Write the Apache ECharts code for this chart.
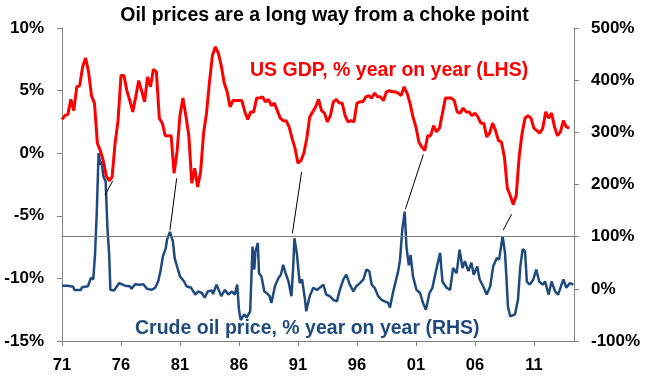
<!DOCTYPE html>
<html>
<head>
<meta charset="utf-8">
<script src="https://cdn.jsdelivr.net/npm/echarts@6/dist/echarts.min.js"></script>
<style>
html,body{margin:0;padding:0;background:#fff;}
#chart{width:649px;height:381px;}
</style>
</head>
<body>
<div id="chart"></div>
<script>
// ---- Data ----
const titleText = 'Oil prices are a long way from a choke point';
const gdpLabel = 'US GDP, % year on year (LHS)';
const oilLabel = 'Crude oil price, % year on year (RHS)';

// US GDP, % y/y, quarterly from 1971Q1
const gdpStartYear = 1971;
const gdpValues = [
  2.7, 3.0, 3.1, 4.3,   // 1971
  3.4, 5.3, 5.4, 6.9,   // 1972
  7.6, 6.5, 4.6, 4.0,   // 1973
  0.8, 0.2, -0.6, -1.8, // 1974
  -2.2, -1.9, 0.8, 2.6, // 1975
  6.2, 6.2, 5.0, 4.2,   // 1976
  3.3, 4.5, 5.8, 5.0,   // 1977
  4.1, 6.1, 5.3, 6.7,   // 1978
  6.5, 2.8, 2.4, 1.4,   // 1979
  1.4, 1.4, -1.6, 0.1,  // 1980
  3.0, 4.4, 3.0, 1.4,   // 1981
  -2.4, -1.2, -2.7, -1.5, // 1982
  1.6, 3.2, 5.7, 7.8,   // 1983
  8.5, 8.0, 7.0, 5.6,   // 1984
  4.9, 3.7, 4.2, 4.2,   // 1985
  4.2, 4.2, 3.3, 2.7,   // 1986
  3.3, 3.3, 4.4, 4.4,   // 1987
  4.5, 4.1, 4.3, 3.8,   // 1988
  4.0, 3.4, 2.8, 2.6,   // 1989
  2.6, 2.1, 1.2, 0.4,   // 1990
  -0.8, -0.6, 0.0, 1.2, // 1991
  2.9, 3.3, 3.7, 4.3,   // 1992
  3.4, 3.2, 2.5, 3.0,   // 1993
  4.1, 4.3, 4.0, 4.0,   // 1994
  3.0, 2.5, 2.6, 2.5,   // 1995
  4.0, 4.1, 4.1, 4.5,   // 1996
  4.6, 4.4, 4.8, 4.5,   // 1997
  4.5, 4.2, 4.9, 5.0,   // 1998
  4.9, 4.9, 4.8, 4.6,   // 1999
  5.3, 4.8, 4.0, 2.9,   // 2000
  2.1, 0.9, 0.5, 0.2,   // 2001
  1.4, 1.4, 2.2, 1.7,   // 2002
  2.0, 3.2, 4.4, 4.4,   // 2003
  4.4, 4.2, 3.3, 3.2,   // 2004
  3.6, 3.3, 3.3, 3.0,   // 2005
  3.2, 2.9, 2.4, 2.4,   // 2006
  1.3, 1.6, 2.4, 1.8,   // 2007
  1.0, 0.9, -0.3, -2.8, // 2008
  -3.4, -4.1, -3.4, -0.3, // 2009
  1.6, 2.8, 3.0, 2.8,   // 2010
  2.0, 1.8, 1.6, 2.0,   // 2011
  3.3, 2.8, 3.2, 2.1,   // 2012
  1.4, 1.7, 2.6, 2.1,   // 2013
  2.0                   // 2014
];

// Crude oil price, % y/y (dates as decimal years)
const oilYears = [
  1971.0, 1971.5, 1971.95, 1972.05, 1972.6, 1972.7, 1973.2, 1973.45, 1973.65, 1973.8,
  1973.95, 1974.1, 1974.25, 1974.35, 1974.5, 1974.7, 1974.85, 1975.0, 1975.1, 1975.4,
  1975.6, 1975.85, 1976.35, 1976.75, 1976.9, 1977.2, 1977.6, 1977.9, 1978.2, 1978.6,
  1978.9, 1979.15, 1979.35, 1979.55, 1979.8, 1979.9, 1980.15, 1980.4, 1980.55, 1980.75,
  1981.0, 1981.35, 1981.55, 1981.95, 1982.3, 1982.55, 1982.85, 1983.1, 1983.35, 1983.7,
  1983.8, 1984.1, 1984.3, 1984.5, 1984.8, 1985.1, 1985.4, 1985.65, 1985.85, 1986.0,
  1986.15, 1986.45, 1986.65, 1986.95, 1987.15, 1987.3, 1987.4, 1987.6, 1987.7, 1987.9,
  1988.15, 1988.35, 1988.6, 1988.75, 1989.05, 1989.35, 1989.55, 1989.75, 1989.95, 1990.2,
  1990.45, 1990.6, 1990.7, 1990.9, 1991.15, 1991.35, 1991.6, 1991.7, 1992.0, 1992.3,
  1992.6, 1992.85, 1993.15, 1993.4, 1993.7, 1994.0, 1994.3, 1994.55, 1994.85, 1995.1,
  1995.4, 1995.7, 1995.95, 1996.25, 1996.55, 1996.8, 1997.05, 1997.25, 1997.5, 1997.8,
  1998.1, 1998.35, 1998.65, 1998.8, 1999.05, 1999.25, 1999.5, 1999.65, 1999.85, 2000.05,
  2000.2, 2000.4, 2000.55, 2000.75, 2001.05, 2001.35, 2001.6, 2001.85, 2002.15, 2002.4,
  2002.7, 2003.05, 2003.25, 2003.6, 2003.9, 2004.15, 2004.45, 2004.7, 2004.95, 2005.15,
  2005.45, 2005.7, 2005.9, 2006.2, 2006.4, 2006.7, 2007.0, 2007.3, 2007.55, 2007.85,
  2008.05, 2008.35, 2008.55, 2008.7, 2008.8, 2009.0, 2009.4, 2009.65, 2009.85, 2010.05,
  2010.25, 2010.4, 2010.65, 2010.95, 2011.2, 2011.45, 2011.75, 2011.95, 2012.25, 2012.5,
  2012.8, 2013.05, 2013.5, 2013.75, 2014.05, 2014.35
];
const oilValues = [
  6, 6, 4, -2, -2, 3, 5, 21, 18, 66,
  148, 260, 238, 244, 216, 206, 117, 65, -2, -3,
  3, 11, 6, 5, 0, 9, 8, 9, 0, -2,
  2, 14, 34, 62, 78, 94, 109, 91, 59, 43,
  24, 14, 5, 2, -11, -5, -8, -17, -5, -3,
  -10, 8, -3, -14, -2, -11, -5, -11, 8, -40,
  -60, -49, -55, -43, 81, 37, 72, 88, 30, 24,
  -5, -8, -14, -27, 5, 21, 27, 46, 30, 14,
  -14, 43, 97, 69, 11, 18, -21, -43, -14, 2,
  -2, 2, 8, -11, -14, -21, -24, -2, 18, 27,
  8, -5, 5, 11, 18, 37, 34, 8, 2, -14,
  -21, -24, -27, -36, -8, 11, 34, 55, 115, 148,
  80, 45, 65, 24, -2, -8, -27, -40, -8, 2,
  34, 69, 14, 2, -2, 40, 30, 75, 40, 53,
  34, 50, 27, 43, 18, 5, -11, 5, 43, 59,
  56, 101, 69, 11, -34, -53, -49, -21, 43, 76,
  72, 14, 8, 18, 37, 14, 8, 14, -11, 14,
  -5, -11, 18, 2, 11, 8
];

// Pointer lines linking GDP troughs to oil peaks, [year, GDP %] pairs (LHS scale)
const pointerLines = [
  [[1975.30, -2.2], [1974.65, -3.35]],
  [[1980.72, -2.0], [1980.15, -6.15]],
  [[1991.31, -1.5], [1990.53, -6.4]],
  [[2001.63, -0.1], [2000.11, -4.47]],
  [[2009.11, -4.87], [2008.40, -6.15]]
];
const oilReferenceLevel = 100;

const xTickYears = [1971, 1976, 1981, 1986, 1991, 1996, 2001, 2006, 2011];

// ---- Build ----
const gdpData = gdpValues.map((v, i) => [gdpStartYear + i * 0.25, v]);
const oilData = oilYears.map((x, i) => [x, oilValues[i]]);

const FONT = '"Liberation Sans", Arial, sans-serif';
const RED = '#FF0000';
const BLUE = '#1F4A7E';
const AXIS = '#808080';

const chart = echarts.init(document.getElementById('chart'), null, {renderer: 'canvas'});
chart.setOption({
  animation: false,
  backgroundColor: '#fff',
  title: {
    text: titleText,
    left: 'center',
    top: 1,
    textStyle: {fontFamily: FONT, fontWeight: 'bold', fontSize: 19.5, color: '#000'}
  },
  grid: {left: 62, right: 75, top: 28, bottom: 40, containLabel: false},
  xAxis: {
    type: 'value',
    min: 1971,
    max: 2014.4,
    interval: 5,
    axisLine: {show: true, onZero: false, lineStyle: {color: AXIS, width: 1}},
    axisTick: {show: true, inside: false, length: 5, lineStyle: {color: AXIS}},
    splitLine: {show: false},
    axisLabel: {
      margin: 16,
      showMaxLabel: false,
      fontFamily: FONT, fontWeight: 'bold', fontSize: 16.5, color: '#000',
      formatter: v => xTickYears.includes(v) ? String(v).slice(2) : ''
    }
  },
  yAxis: [
    {
      type: 'value', position: 'left', min: -15, max: 10, interval: 5,
      axisLine: {show: true, lineStyle: {color: AXIS, width: 1}},
      axisTick: {show: true, inside: false, length: 5, lineStyle: {color: AXIS}},
      splitLine: {show: false},
      axisLabel: {margin: 18, fontFamily: FONT, fontWeight: 'bold', fontSize: 17, color: '#000', formatter: '{value}%'}
    },
    {
      type: 'value', position: 'right', min: -100, max: 500, interval: 100,
      axisLine: {show: true, lineStyle: {color: AXIS, width: 1}},
      axisTick: {show: true, inside: false, length: 5, lineStyle: {color: AXIS}},
      splitLine: {show: false},
      axisLabel: {margin: 17, fontFamily: FONT, fontWeight: 'bold', fontSize: 17, color: '#000', formatter: '{value}%'}
    }
  ],
  series: [
    {
      name: 'Crude oil price',
      type: 'line',
      yAxisIndex: 1,
      data: oilData,
      showSymbol: false,
      symbol: 'none',
      lineStyle: {color: BLUE, width: 2.5},
      z: 2,
      markLine: {
        silent: true,
        symbol: 'none',
        label: {show: false},
        lineStyle: {color: '#7F7F7F', width: 1, type: 'solid'},
        data: [{yAxis: oilReferenceLevel}]
      }
    },
    {
      name: 'US GDP',
      type: 'line',
      yAxisIndex: 0,
      data: gdpData,
      showSymbol: false,
      symbol: 'none',
      lineStyle: {color: RED, width: 3},
      z: 3,
      markLine: {
        silent: true,
        symbol: 'none',
        label: {show: false},
        lineStyle: {color: '#000', width: 1, type: 'solid'},
        data: pointerLines.map(p => [{coord: p[0]}, {coord: p[1]}])
      }
    }
  ],
  graphic: [
    {
      type: 'text', left: 250, top: 61,
      style: {text: gdpLabel, fill: RED, font: 'bold 19.5px ' + FONT}
    },
    {
      type: 'text', left: 135, top: 319,
      style: {text: oilLabel, fill: BLUE, font: 'bold 19.5px ' + FONT}
    }
  ]
});
</script>
</body>
</html>
